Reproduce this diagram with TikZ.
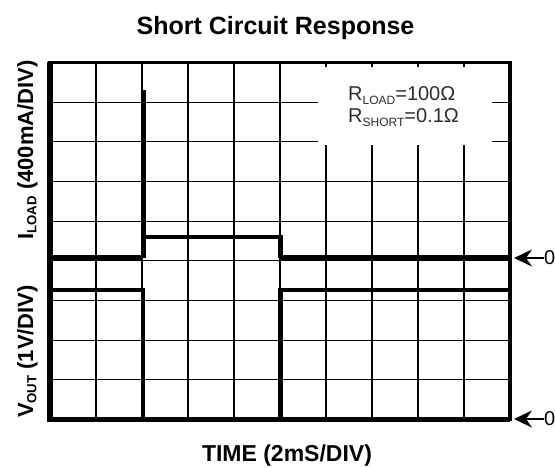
\documentclass[tikz,border=0pt]{standalone}
\usepackage{fontspec}
\setmainfont{Liberation Sans}
\usetikzlibrary{arrows.meta,positioning}
\newcommand{\lowsub}[1]{\raisebox{-0.3ex}{\scalebox{0.6}{#1}}}

\begin{document}
\begin{tikzpicture}[x=1pt,y=-1pt,
                    grid line/.style={line width=1.1pt},
                    frame line/.style={line width=3.5pt},
                    trace/.style={line width=4.5pt,line join=miter},
                    axis label/.style={font=\fontsize{22}{26}\selectfont\bfseries,rotate=90,anchor=base},
                    zero mark/.style={font=\fontsize{20}{24}\selectfont,anchor=west,inner sep=0pt},
                    zero arrow/.style={line width=1.6pt}]

  \useasboundingbox (0,0) rectangle (555,468);

  % grid
  \foreach \i in {1,...,9}
    \draw[grid line] ({50+46*\i},62.5) -- ({50+46*\i},419.5);
  \foreach \j in {1,...,8}
    \draw[grid line] (50,{62.5+39.67*\j}) -- (510,{62.5+39.67*\j});

  % label box
  \fill[white] (318,67) rectangle (492,145);
  \node[anchor=base west,inner sep=0pt,font=\fontsize{20}{24}\selectfont,text=black!82] (rload) at (348,101) {R\lowsub{LOAD}=100Ω};
  \node[anchor=base west,inner sep=0pt,font=\fontsize{20}{24}\selectfont,text=black!82] (rshort) at (348,123) {R\lowsub{SHORT}=0.1Ω};

  % frame
  \draw[frame line] (50,62.5) rectangle (510,419.5);
  \draw[line width=5.5pt] (50,62.5) -- (50,419.5) -- (510,419.5);

  % load current
  \draw[trace,line width=6pt] (50,258) -- (143,258);
  \draw[trace,line width=5pt] (143,258) -- (143,90);
  \draw[trace] (143,237) -- (280.5,237) -- (280.5,258);
  \draw[trace,line width=6pt] (280.5,258) -- (510,258);

  % output voltage
  \draw[trace] (50,290) -- (143,290) -- (143,419.5);
  \draw[trace] (280.5,419.5) -- (280.5,290) -- (510,290);

  % zero markers
  \node[zero mark] (zeroI) at (544,258) {0};
  \coordinate (tipI) at (514,258);
  \draw[zero arrow,-{Stealth[length=18pt,width=17pt,inset=6pt]}] (zeroI.west) -- (tipI);
  \node[zero mark] (zeroV) at (544,419) {0};
  \coordinate (tipV) at (514,419);
  \draw[zero arrow,-{Stealth[length=18pt,width=17pt,inset=6pt]}] (zeroV.west) -- (tipV);

  % titles
  \node[font=\fontsize{25}{30}\selectfont\bfseries,anchor=base] (title) at (275.5,35) {Short Circuit Response};
  \node[font=\fontsize{23}{28}\selectfont\bfseries,anchor=base] (time) at (287,461) {TIME (2mS/DIV)};
  \node[axis label] (iload) at (33,150) {I\lowsub{LOAD} (400mA/DIV)};
  \node[axis label] (vout) at (33,351.5) {V\lowsub{OUT} (1V/DIV)};

\end{tikzpicture}
\end{document}
